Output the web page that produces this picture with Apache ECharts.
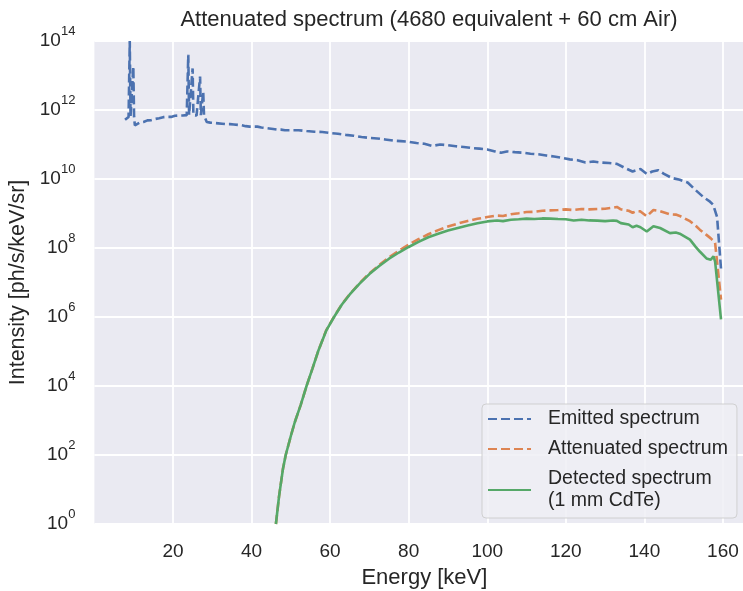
<!DOCTYPE html>
<html>
<head>
<meta charset="utf-8">
<script src="https://cdn.jsdelivr.net/npm/echarts@6/dist/echarts.min.js"></script>
<style>
html,body{margin:0;padding:0;background:#fff;}
#chart{width:743px;height:591px;}
</style>
</head>
<body>
<div id="chart"></div>
<script>
// ---- data ----
const titleText = 'Attenuated spectrum (4680 equivalent + 60 cm Air)';
const xTickValues = [20, 40, 60, 80, 100, 120, 140, 160];
const yTickExponents = [0, 2, 4, 6, 8, 10, 12, 14];
const seriesNames = ['Emitted spectrum', 'Attenuated spectrum', 'Detected spectrum\n(1 mm CdTe)'];

const emittedEnergy = [
  7.8, 8.3, 8.7, 9.0, 9.2, 9.6, 9.9, 10.1, 10.3, 10.8, 11.5, 12, 12.5, 13, 13.5, 14, 14.5, 15, 15.5, 16,
  16.5, 17, 17.5, 18, 18.5, 19, 19.5, 20, 20.5, 21, 21.5, 22, 22.5, 23, 23.5, 23.9, 24.1, 24.5, 25.0, 25.2,
  25.6, 26, 26.5, 26.9, 27.1, 27.4, 27.7, 27.9, 28.3, 28.6, 29, 29.5, 30, 30.5, 31, 31.5, 32, 32.5, 33, 33.5,
  34, 34.5, 35, 35.5, 36, 36.5, 37, 37.5, 38, 38.5, 39, 39.5, 40, 40.5, 41, 41.5, 42, 42.5, 43, 43.5,
  44, 44.5, 45, 45.5, 46, 46.5, 47, 47.5, 48, 48.5, 49, 49.5, 50, 52, 54, 56, 58, 60, 62, 64,
  66, 68, 70, 72, 74, 76, 78, 80, 82, 84, 86, 88, 90, 92, 94, 96, 98, 100, 102, 103.5,
  105, 107, 109, 111, 113, 115, 117, 119, 121, 123, 125, 127, 129, 131, 133, 135, 137, 139, 140.6, 142,
  143.5, 145, 147, 149, 151, 153, 155, 156.7, 157.5, 158.5, 159.5
];
const emittedIntensity = [
  5.2e11, 5.8e11, 6.3e11, 1.0e14, 6.6e11, 7.1e11, 1.8e13, 6.3e11, 3.6e11, 4.0e11, 4.3e11, 4.6e11, 4.5e11, 4.9e11, 5.0e11, 5.4e11, 5.1e11, 5.6e11, 5.5e11, 5.9e11,
  5.8e11, 6.0e11, 6.2e11, 6.0e11, 6.3e11, 6.5e11, 6.3e11, 6.6e11, 6.8e11, 6.6e11, 6.9e11, 7.1e11, 6.9e11, 7.2e11, 7.1e11, 4.0e13, 7.2e11, 7.1e11, 1.6e13, 7.1e11,
  7.4e11, 6.9e11, 7.2e11, 9.3e12, 7.1e11, 7.2e11, 3.4e12, 6.9e11, 6.3e11, 4.5e11, 4.6e11, 4.3e11, 4.4e11, 4.2e11, 4.3e11, 4.1e11, 4.2e11, 4.0e11, 4.1e11, 3.9e11,
  3.8e11, 3.9e11, 3.7e11, 3.8e11, 3.6e11, 3.7e11, 3.5e11, 3.6e11, 3.5e11, 3.4e11, 3.5e11, 3.3e11, 3.4e11, 3.3e11, 3.2e11, 3.3e11, 3.2e11, 3.1e11, 3.2e11, 3.0e11,
  3.1e11, 2.9e11, 3.0e11, 2.8e11, 2.9e11, 2.7e11, 2.8e11, 2.7e11, 2.75e11, 2.6e11, 2.7e11, 2.6e11, 2.6e11, 2.6e11, 2.45e11, 2.35e11, 2.3e11, 2.15e11, 2.05e11, 1.9e11,
  1.8e11, 1.65e11, 1.55e11, 1.5e11, 1.4e11, 1.3e11, 1.25e11, 1.2e11, 1.1e11, 1.05e11, 9.1e10, 1.0e11, 9.5e10, 8.9e10, 8.5e10, 7.9e10, 7.6e10, 7.2e10, 6.3e10, 5.8e10,
  6.3e10, 6.0e10, 5.8e10, 5.4e10, 5.2e10, 4.8e10, 4.5e10, 4.1e10, 3.7e10, 3.5e10, 3.0e10, 3.2e10, 3.0e10, 2.9e10, 2.75e10, 2.1e10, 1.65e10, 1.95e10, 1.4e10, 1.65e10,
  1.8e10, 1.4e10, 1.07e10, 9.5e9, 7.9e9, 4.8e9, 3.0e9, 2.2e9, 1.8e9, 7.9e8, 2.5e7
];

const filteredEnergy = [
  46.2, 47, 48, 48.7, 50, 51, 52.5, 54, 55.5, 57, 59, 61, 63, 65, 67.5, 70, 72.5, 75, 77.5, 80,
  82.5, 85, 87.5, 90, 92.5, 95, 97.5, 100, 102.5, 104, 106, 108, 110, 112, 114, 116, 118, 120, 122, 124,
  126, 128, 130, 132, 133, 134, 136, 137, 138, 139, 140.6, 142.3, 144, 146.5, 148, 149, 151.6, 153, 154.1, 155.8,
  156.9, 157.6, 158, 159.5
];
const attenuatedIntensity = [
  1.0, 6.3, 40, 100, 355, 890, 2800, 1.0e4, 3.2e4, 1.05e5, 4.1e5, 1.02e6, 2.35e6, 4.6e6, 9.6e6, 1.85e7, 3.2e7, 5.4e7, 8.3e7, 1.25e8,
  1.8e8, 2.5e8, 3.3e8, 4.2e8, 5.1e8, 6.1e8, 7.0e8, 7.9e8, 8.7e8, 8.5e8, 9.5e8, 1.02e9, 1.1e9, 1.12e9, 1.2e9, 1.23e9, 1.26e9, 1.32e9, 1.26e9, 1.35e9,
  1.32e9, 1.35e9, 1.38e9, 1.48e9, 1.55e9, 1.32e9, 1.2e9, 1.05e9, 1.17e9, 1.15e9, 8.3e8, 1.26e9, 1.17e9, 9.5e8, 9.3e8, 8.5e8, 6.0e8, 4.5e8, 3.4e8, 2.4e8,
  1.9e8, 1.6e8, 1.4e8, 3.2e6
];
const detectedIntensity = [
  1.0, 6.3, 40, 100, 355, 890, 2800, 1.0e4, 3.2e4, 1.05e5, 4.0e5, 1.0e6, 2.3e6, 4.5e6, 9.3e6, 1.75e7, 3.0e7, 4.9e7, 7.4e7, 1.07e8,
  1.5e8, 2.05e8, 2.6e8, 3.2e8, 3.8e8, 4.5e8, 5.2e8, 5.9e8, 6.3e8, 6.0e8, 6.6e8, 6.8e8, 7.1e8, 6.9e8, 7.2e8, 7.1e8, 6.9e8, 6.8e8, 6.3e8, 6.6e8,
  6.3e8, 6.2e8, 6.0e8, 6.3e8, 6.1e8, 5.25e8, 4.8e8, 4.0e8, 4.4e8, 4.0e8, 3.0e8, 4.3e8, 3.8e8, 2.7e8, 2.8e8, 2.6e8, 1.75e8, 1.1e8, 7.9e7, 5.0e7,
  4.6e7, 5.75e7, 4.0e7, 8.5e5
];

// ---- chart ----
const TXT = '#262626';
const FONT = '"Liberation Sans", Arial, sans-serif';
const zip = (xs, ys) => xs.map((x, i) => [x, ys[i]]);

const chart = echarts.init(document.getElementById('chart'), null, {renderer: 'canvas'});
chart.setOption({
  animation: false,
  backgroundColor: '#ffffff',
  textStyle: {fontFamily: FONT, color: TXT},
  title: {
    text: titleText,
    left: 424,
    textAlign: 'center',
    top: 4,
    textStyle: {fontFamily: FONT, fontSize: 22, fontWeight: 'normal', color: TXT}
  },
  grid: {
    left: 94.4, top: 41, width: 660, height: 483,
    show: true, backgroundColor: '#EAEAF2', borderWidth: 0,
    outerBoundsMode: 'none'
  },
  legend: {
    orient: 'vertical',
    left: 482, top: 404,
    padding: [4, 9, 6, 5],
    itemWidth: 43, itemHeight: 14, itemGap: 8,
    backgroundColor: 'rgba(238,238,244,0.85)',
    borderColor: 'rgba(204,204,204,0.9)', borderWidth: 1, borderRadius: 4,
    itemStyle: {opacity: 0, borderWidth: 0},
    textStyle: {fontFamily: FONT, fontSize: 19.5, color: TXT, lineHeight: 22, padding: [0, 0, 0, 12]},
    data: seriesNames
  },
  xAxis: {
    type: 'value',
    min: 0, max: 168, interval: 20,
    name: 'Energy [keV]', nameLocation: 'middle', nameGap: 43,
    nameTextStyle: {fontFamily: FONT, fontSize: 22, color: TXT},
    axisLine: {show: false}, axisTick: {show: false},
    axisLabel: {
      fontFamily: FONT, fontSize: 19, color: TXT, margin: 18,
      showMinLabel: false, showMaxLabel: false,
      formatter: v => (xTickValues.indexOf(v) >= 0 ? String(v) : '')
    },
    splitLine: {show: true, showMinLine: false, showMaxLine: false, lineStyle: {color: '#ffffff', width: 1.8}}
  },
  yAxis: {
    type: 'log', logBase: 10,
    min: 1, max: 1e14, interval: 2,
    name: 'Intensity [ph/s/keV/sr]', nameLocation: 'middle', nameGap: 63,
    nameTextStyle: {fontFamily: FONT, fontSize: 21.5, color: TXT},
    axisLine: {show: false}, axisTick: {show: false},
    axisLabel: {
      margin: 19,
      formatter: v => {
        const e = Math.round(Math.log10(v));
        return yTickExponents.indexOf(e) >= 0 ? '{b|10}{s|' + e + '}' : '';
      },
      rich: {
        b: {fontFamily: FONT, fontSize: 19, color: TXT, lineHeight: 22},
        s: {fontFamily: FONT, fontSize: 13, color: TXT, lineHeight: 14, padding: [0, 0, 20, 0]}
      }
    },
    splitLine: {show: true, lineStyle: {color: '#ffffff', width: 1.8}}
  },
  series: [
    {
      name: seriesNames[0], type: 'line', showSymbol: false, symbol: 'none',
      data: zip(emittedEnergy, emittedIntensity),
      lineStyle: {color: '#4C72B0', width: 2.6, type: [9, 4]},
      itemStyle: {color: '#4C72B0'}
    },
    {
      name: seriesNames[1], type: 'line', showSymbol: false, symbol: 'none',
      data: zip(filteredEnergy, attenuatedIntensity),
      lineStyle: {color: '#DD8452', width: 2.6, type: [9, 4]},
      itemStyle: {color: '#DD8452'}
    },
    {
      name: seriesNames[2], type: 'line', showSymbol: false, symbol: 'none',
      data: zip(filteredEnergy, detectedIntensity),
      lineStyle: {color: '#55A868', width: 2.6, type: 'solid'},
      itemStyle: {color: '#55A868'}
    }
  ]
});
</script>
</body>
</html>
